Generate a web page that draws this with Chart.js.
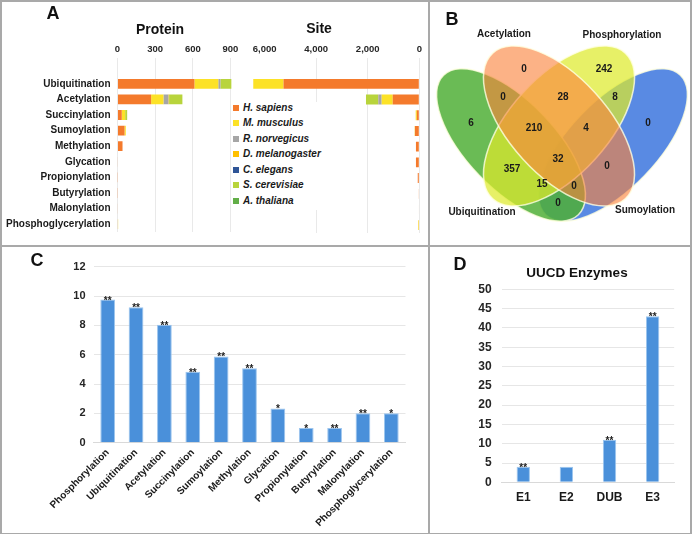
<!DOCTYPE html>
<html>
<head>
<meta charset="utf-8">
<script src="https://cdn.jsdelivr.net/npm/chart.js"></script>
<style>
body { margin: 0; background: #fff; }
#fig { position: relative; width: 692px; height: 534px; overflow: hidden; font-family: "Liberation Sans", Arial, sans-serif; }
canvas { position: absolute; }
.line { position: absolute; background: #A9A9A9; }
.txt { position: absolute; font-weight: bold; color: #111; white-space: nowrap; line-height: 1; transform: translate(-50%, -50%); }
#legend { position: absolute; left: 231px; top: 102px; width: 100px; background: #fff; }
#legend div { height: 15.45px; line-height: 15.45px; font: italic bold 10px "Liberation Sans", Arial, sans-serif; color: #1a1a1a; white-space: nowrap; }
#legend span { display: inline-block; width: 6px; height: 6px; margin: 0 4px 0 2px; vertical-align: 0px; }
</style>
</head>
<body>
<div id="fig">
  <canvas id="protein" width="245" height="245" style="left:0;top:0"></canvas>
  <canvas id="site" width="183" height="245" style="left:245px;top:0"></canvas>
  <canvas id="venn" width="263" height="245" style="left:429px;top:0"></canvas>
  <canvas id="motif" width="428" height="288" style="left:0;top:246px"></canvas>
  <canvas id="uucd" width="263" height="288" style="left:429px;top:246px"></canvas>

  <div id="legend"></div>

  <div class="txt" style="left:160px;top:29px;font-size:14px">Protein</div>
  <div class="txt" style="left:319px;top:28px;font-size:14px">Site</div>
  <div class="txt" style="left:577px;top:273px;font-size:13.5px">UUCD Enzymes</div>

  <div class="txt" style="left:53px;top:13px;font-size:18px">A</div>
  <div class="txt" style="left:452px;top:19px;font-size:18px">B</div>
  <div class="txt" style="left:37px;top:260px;font-size:18px">C</div>
  <div class="txt" style="left:460px;top:264px;font-size:18px">D</div>

  <div class="line" style="left:0;top:0;width:692px;height:1.5px"></div>
  <div class="line" style="left:0;top:532.5px;width:692px;height:1.5px"></div>
  <div class="line" style="left:0;top:0;width:1.5px;height:534px"></div>
  <div class="line" style="left:690px;top:0;width:1.5px;height:534px"></div>
  <div class="line" style="left:428px;top:0;width:1.5px;height:534px"></div>
  <div class="line" style="left:0;top:245px;width:692px;height:1.5px"></div>
</div>

<script>
'use strict';

// ---- panel A: proteins / sites per organism ----
var ptmTypes = ['Ubiquitination', 'Acetylation', 'Succinylation', 'Sumoylation', 'Methylation',
    'Glycation', 'Propionylation', 'Butyrylation', 'Malonylation', 'Phosphoglycerylation'];
var species = ['H. sapiens', 'M. musculus', 'R. norvegicus', 'D. melanogaster', 'C. elegans', 'S. cerevisiae', 'A. thaliana'];
var speciesColors = ['#F47A2C', '#FCE227', '#A6A6A6', '#FFC000', '#2F5597', '#B8D43C', '#62AE47'];

var proteinHsap = [613, 268, 34, 56, 40, 3, 1, 1, 3, 3];
var proteinMmus = [190, 98, 27, 10, 0, 0, 0, 0, 0, 2];
var proteinRnor = [17, 40, 0, 0, 0, 0, 0, 0, 0, 0];
var proteinDmel = [0, 5, 0, 0, 0, 0, 0, 0, 0, 0];
var proteinCele = [0, 0, 0, 0, 0, 0, 0, 0, 0, 0];
var proteinScer = [87, 106, 16, 0, 0, 0, 0, 0, 0, 0];
var proteinAtha = [0, 0, 0, 0, 0, 0, 0, 0, 0, 0];
var proteinTicks = [0, 300, 600, 900];

var siteHsap = [5266, 1032, 95, 170, 130, 130, 60, 15, 20, 15];
var siteMmus = [1174, 427, 45, 10, 0, 0, 0, 0, 0, 25];
var siteRnor = [0, 132, 0, 0, 0, 0, 0, 0, 0, 0];
var siteDmel = [0, 10, 0, 0, 0, 0, 0, 0, 0, 0];
var siteCele = [0, 0, 0, 0, 0, 0, 0, 0, 0, 0];
var siteScer = [0, 467, 0, 0, 0, 0, 0, 0, 0, 0];
var siteAtha = [0, 0, 0, 0, 0, 0, 0, 0, 0, 0];
var siteTicks = [0, 2000, 4000, 6000];

// ---- panel B: overlap of modified proteins ----
var vennSets = ['Ubiquitination', 'Acetylation', 'Phosphorylation', 'Sumoylation'];
var vennCounts = [6, 0, 242, 0, 0, 28, 8, 210, 4, 32, 357, 0, 15, 0, 0];

// ---- panel C: enrichment per PTM ----
var motifPtms = ['Phosphorylation', 'Ubiquitination', 'Acetylation', 'Succinylation', 'Sumoylation', 'Methylation',
    'Glycation', 'Propionylation', 'Butyrylation', 'Malonylation', 'Phosphoglycerylation'];
var motifValues = [9.76, 9.23, 8.05, 4.83, 5.88, 5.08, 2.34, 1.0, 1.0, 2.0, 2.0];
var motifStars = ['**', '**', '**', '**', '**', '**', '*', '*', '**', '**', '*'];

// ---- panel D: UUCD enzymes ----
var enzymeClasses = ['E1', 'E2', 'DUB', 'E3'];
var enzymeValues = [4, 4, 11, 43];
var enzymeStars = ['**', '', '**', '**'];

var FONT = '"Liberation Sans", Arial, sans-serif';
Chart.defaults.font.family = FONT;
Chart.defaults.color = '#1f1f1f';
Chart.defaults.animation = false;
Chart.defaults.plugins.legend.display = false;
Chart.defaults.plugins.tooltip.enabled = false;

// legend for panel A
(function () {
    var box = document.getElementById('legend');
    species.forEach(function (name, i) {
        var row = document.createElement('div');
        var sw = document.createElement('span');
        sw.style.background = speciesColors[i];
        row.appendChild(sw);
        row.appendChild(document.createTextNode(name));
        box.appendChild(row);
    });
})();

function stackSets(rows) {
    return rows.map(function (vals, i) {
        return {
            label: species[i],
            data: vals,
            backgroundColor: speciesColors[i],
            borderWidth: 0,
            barPercentage: 0.63,
            categoryPercentage: 1
        };
    });
}

function topAxis(max, tickList, reverse, gridTicks) {
    return {
        position: 'top',
        stacked: true,
        min: 0,
        max: max,
        reverse: reverse,
        afterBuildTicks: function (scale) {
            scale.ticks = tickList.map(function (v) { return { value: v }; });
        },
        afterFit: function (scale) {
            scale.height = 36;
            scale.paddingLeft = 0;
            scale.paddingRight = 0;
        },
        grid: {
            color: function (c) {
                return gridTicks.indexOf(c.tick && c.tick.value) >= 0 ? '#E9E9E9' : 'rgba(0,0,0,0)';
            },
            tickLength: 18,
            lineWidth: 1
        },
        border: { display: false },
        ticks: { font: { size: 9.5, weight: 'bold' }, padding: 3, color: '#262626' }
    };
}

new Chart(document.getElementById('protein'), {
    type: 'bar',
    data: {
        labels: ptmTypes,
        datasets: stackSets([proteinHsap, proteinMmus, proteinRnor, proteinDmel, proteinCele, proteinScer, proteinAtha])
    },
    options: {
        indexAxis: 'y',
        responsive: false,
        layout: { padding: { top: 40, bottom: 12, left: 0, right: 7 } },
        scales: {
            x: topAxis(960, proteinTicks, false, proteinTicks),
            y: {
                stacked: true,
                grid: { display: false, drawTicks: false },
                border: { display: false },
                afterFit: function (scale) { scale.width = 117.5; },
                ticks: { font: { size: 10, weight: 'bold' }, padding: 7, color: '#1a1a1a' }
            }
        }
    }
});

new Chart(document.getElementById('site'), {
    type: 'bar',
    data: {
        labels: ptmTypes,
        datasets: stackSets([siteHsap, siteMmus, siteRnor, siteDmel, siteCele, siteScer, siteAtha])
    },
    options: {
        indexAxis: 'y',
        responsive: false,
        layout: { padding: { top: 40, bottom: 12, left: 8, right: 8.7 } },
        scales: {
            x: topAxis(6450, siteTicks, true, [0, 2000, 4000]),
            y: { stacked: true, display: false }
        }
    }
});

// ---- Venn (panel B), drawn on a linear x/y grid that matches the panel ----
// order: Sumoylation, Ubiquitination, Phosphorylation, Acetylation (bottom to top)
var vennShapes = [
    { cx: 184, cy: 145, a: 97, b: 44, rot: -46, fill: 'rgba(60,118,222,0.85)' },
    { cx: 82, cy: 145, a: 97, b: 44, rot: 46, fill: 'rgba(80,175,55,0.85)' },
    { cx: 130, cy: 126, a: 98.5, b: 49, rot: -47.7, fill: 'rgba(222,234,45,0.72)' },
    { cx: 130, cy: 126, a: 98.5, b: 49, rot: 47.7, fill: 'rgba(250,130,60,0.62)' }
];
var vennCountPos = [[42, 123], [95, 69], [175, 69], [219, 123], [74, 97], [134, 97], [186, 97],
    [105, 128], [157, 128], [129, 159], [83, 169], [178, 166], [113, 184], [145, 186], [129, 203]];
var vennNamePos = [[53, 212], [75, 34], [193, 35], [216, 210]];

var vennPlugin = {
    id: 'venn',
    beforeDatasetsDraw: function (chart) {
        var ctx = chart.ctx, x = chart.scales.x, y = chart.scales.y;
        var kx = x.getPixelForValue(1) - x.getPixelForValue(0);
        ctx.save();
        vennShapes.forEach(function (e) {
            ctx.beginPath();
            ctx.ellipse(x.getPixelForValue(e.cx), y.getPixelForValue(e.cy), e.a * kx, e.b * kx,
                e.rot * Math.PI / 180, 0, Math.PI * 2);
            ctx.fillStyle = e.fill;
            ctx.fill();
            ctx.lineWidth = 1.5;
            ctx.strokeStyle = 'rgba(255,255,225,0.8)';
            ctx.stroke();
        });
        ctx.restore();
    },
    afterDatasetsDraw: function (chart) {
        var ctx = chart.ctx, x = chart.scales.x, y = chart.scales.y;
        ctx.save();
        ctx.font = 'bold 10px ' + FONT;
        ctx.fillStyle = '#1a1a1a';
        ctx.textAlign = 'center';
        ctx.textBaseline = 'middle';
        chart.getDatasetMeta(0).data.forEach(function (pt, i) {
            ctx.fillText(String(vennCounts[i]), pt.x, pt.y);
        });
        vennSets.forEach(function (name, i) {
            ctx.fillText(name, x.getPixelForValue(vennNamePos[i][0]), y.getPixelForValue(vennNamePos[i][1]));
        });
        ctx.restore();
    }
};

new Chart(document.getElementById('venn'), {
    type: 'scatter',
    data: {
        datasets: [{
            data: vennCountPos.map(function (p) { return { x: p[0], y: p[1] }; }),
            pointRadius: 0
        }]
    },
    options: {
        responsive: false,
        layout: { padding: 0 },
        scales: {
            x: { display: false, min: 0, max: 263 },
            y: { display: false, min: 0, max: 245, reverse: true }
        }
    },
    plugins: [vennPlugin]
});

// stars over bars (panels C, D)
var starPlugin = {
    id: 'stars',
    afterDatasetsDraw: function (chart, args, opts) {
        var ctx = chart.ctx;
        ctx.save();
        ctx.font = 'bold 10px ' + FONT;
        ctx.fillStyle = '#222';
        ctx.textAlign = 'center';
        ctx.textBaseline = 'alphabetic';
        chart.getDatasetMeta(0).data.forEach(function (bar, i) {
            if (opts.marks[i]) ctx.fillText(opts.marks[i], bar.x, bar.y + 4);
        });
        ctx.restore();
    }
};

new Chart(document.getElementById('motif'), {
    type: 'bar',
    data: {
        labels: motifPtms,
        datasets: [{
            data: motifValues,
            backgroundColor: '#4A90DA',
            borderColor: '#9CC5EE',
            borderWidth: 1,
            barPercentage: 0.52,
            categoryPercentage: 1
        }]
    },
    options: {
        responsive: false,
        layout: { padding: { top: 20.7, right: 22.5, left: 0, bottom: 0 } },
        plugins: { stars: { marks: motifStars } },
        scales: {
            y: {
                min: 0, max: 12,
                ticks: { stepSize: 2, font: { size: 11, weight: 'bold' }, padding: 8, color: '#262626' },
                grid: { color: '#E6E6E6', drawTicks: false },
                border: { display: false },
                afterFit: function (scale) { scale.width = 93.5; }
            },
            x: {
                grid: { display: false, drawTicks: false },
                border: { color: '#D9D9D9' },
                ticks: { font: { size: 10, weight: 'bold' }, minRotation: 45, maxRotation: 45, autoSkip: false, padding: 4, color: '#1a1a1a' },
                afterFit: function (scale) { scale.height = 91.3; }
            }
        }
    },
    plugins: [starPlugin]
});

new Chart(document.getElementById('uucd'), {
    type: 'bar',
    data: {
        labels: enzymeClasses,
        datasets: [{
            data: enzymeValues,
            backgroundColor: '#4A90DA',
            borderColor: '#9CC5EE',
            borderWidth: 1,
            barPercentage: 0.31,
            categoryPercentage: 1
        }]
    },
    options: {
        responsive: false,
        layout: { padding: { top: 43.3, right: 17.8, left: 0, bottom: 0 } },
        plugins: { stars: { marks: enzymeStars } },
        scales: {
            y: {
                min: 0, max: 50,
                ticks: { stepSize: 5, font: { size: 12, weight: 'bold' }, padding: 10, color: '#262626' },
                grid: { color: '#E6E6E6', drawTicks: false },
                border: { display: false },
                afterFit: function (scale) { scale.width = 72.7; }
            },
            x: {
                grid: { display: false, drawTicks: false },
                border: { color: '#D9D9D9' },
                ticks: { font: { size: 12, weight: 'bold' }, maxRotation: 0, padding: 8, color: '#1a1a1a' },
                afterFit: function (scale) { scale.height = 51.7; }
            }
        }
    },
    plugins: [starPlugin]
});
</script>
</body>
</html>
